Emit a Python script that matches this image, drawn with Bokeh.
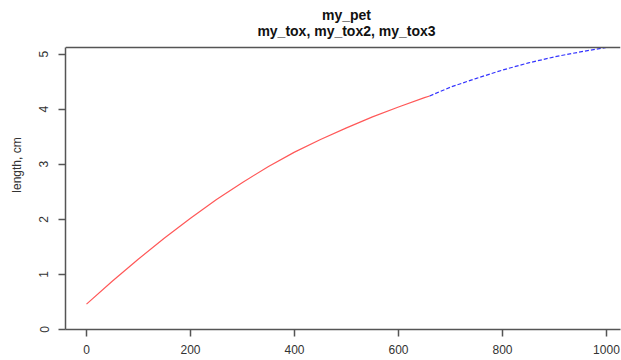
from bokeh.plotting import figure
from bokeh.models import Range1d, LinearAxis, Label, FixedTicker, Span
from bokeh.embed import file_html
from bokeh.resources import INLINE

# observed series (solid red part)
age_obs = [0, 50, 100, 150, 200, 250, 300, 350, 400, 450, 500, 550, 600, 650, 660]
len_obs = [0.46, 0.88, 1.28, 1.66, 2.02, 2.36, 2.67, 2.96, 3.22, 3.45, 3.66, 3.86, 4.04, 4.21, 4.24]
# predicted series (dashed blue part)
age_pred = [660, 700, 750, 800, 850, 900, 950, 1000]
len_pred = [4.24, 4.40, 4.56, 4.71, 4.84, 4.95, 5.04, 5.12]

x_ticks = [0, 200, 400, 600, 800, 1000]
y_ticks = [0, 1, 2, 3, 4, 5]
y_top = 5.12  # upper limit of the plot box

title_main = "my_pet"
title_sub = "my_tox, my_tox2, my_tox3"
y_label = "length, cm"

FONT = "Liberation Sans"
AX = "#555555"
TXT = "#333333"

# the frame reaches the top of the canvas so that the title lines can sit in it
p = figure(width=621, height=360, output_backend="svg", toolbar_location=None,
           x_range=Range1d(-40.4, 1027), y_range=Range1d(0, 5.973),
           min_border_left=65, min_border_right=1, min_border_top=0, min_border_bottom=31,
           title=None, x_axis_location=None, y_axis_location=None)
p.background_fill_color = "white"
p.border_fill_color = "white"
p.outline_line_color = None
p.grid.visible = False

# bottom axis
xa = LinearAxis(ticker=FixedTicker(ticks=x_ticks))
xa.axis_line_color = AX
xa.axis_line_width = 1.5
xa.major_tick_line_color = AX
xa.major_tick_line_width = 1.5
xa.major_tick_in = 0
xa.major_tick_out = 7
xa.minor_tick_line_color = None
xa.major_label_standoff = 8
xa.major_label_text_font = FONT
xa.major_label_text_font_size = "12px"
xa.major_label_text_color = TXT
p.add_layout(xa, "below")

# left axis (line limited to the plot box)
ya = LinearAxis(ticker=FixedTicker(ticks=y_ticks), axis_label=y_label, bounds=(0, y_top))
ya.axis_line_color = AX
ya.axis_line_width = 1.5
ya.major_tick_line_color = AX
ya.major_tick_line_width = 1.5
ya.major_tick_in = 0
ya.major_tick_out = 7
ya.minor_tick_line_color = None
ya.major_label_standoff = 10
ya.major_label_orientation = "vertical"
ya.major_label_text_font = FONT
ya.major_label_text_font_size = "12px"
ya.major_label_text_color = TXT
ya.axis_label_text_font = FONT
ya.axis_label_text_font_size = "12px"
ya.axis_label_text_font_style = "normal"
ya.axis_label_text_color = TXT
ya.axis_label_standoff = 13
p.add_layout(ya, "left")

# top line of the plot box
p.add_layout(Span(location=y_top, dimension="width", line_color=AX, line_width=1.5))

p.line(age_obs, len_obs, line_color="#ff2020", line_width=1.2, line_alpha=0.75)
p.line(age_pred, len_pred, line_color="blue", line_width=1.2, line_alpha=0.8, line_dash="4 2")

# two-line title above the plot box
for txt, yy in ((title_main, 5.701), (title_sub, 5.428)):
    p.add_layout(Label(x=500, y=yy, text=txt, text_align="center", text_baseline="alphabetic",
                       text_font=FONT, text_font_size="14px", text_font_style="bold",
                       text_color="#111111"))

open("out.html", "w").write(file_html(p, INLINE))
